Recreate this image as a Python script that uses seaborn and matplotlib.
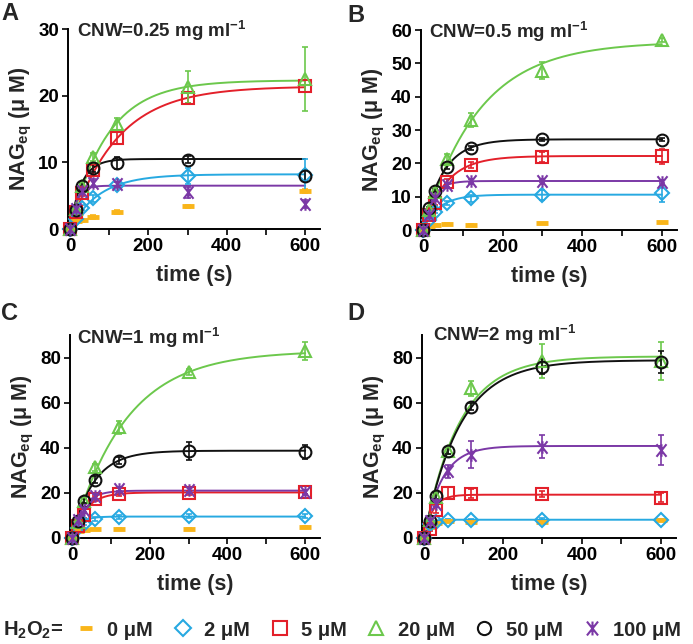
import numpy as np
import pandas as pd
import matplotlib
matplotlib.use("Agg")
import matplotlib.pyplot as plt
import seaborn as sns
from matplotlib.path import Path
from matplotlib.lines import Line2D

sns.set_style("ticks")
plt.rcParams['font.family'] = ['Liberation Sans', 'DejaVu Sans']
plt.rcParams['mathtext.fontset'] = 'custom'
plt.rcParams['mathtext.rm'] = 'Liberation Sans'
plt.rcParams['mathtext.bf'] = 'Liberation Sans:bold'
plt.rcParams['mathtext.default'] = 'regular'

# ---------------- data ----------------
time_s = [0, 15, 30, 60, 120, 300, 600]
series_names = ["0 μM", "2 μM", "5 μM", "20 μM", "50 μM", "100 μM"]
panel_letters = ["A", "B", "C", "D"]
panel_titles = ["CNW=0.25 mg ml$^{-1}$", "CNW=0.5 mg ml$^{-1}$",
                "CNW=1 mg ml$^{-1}$", "CNW=2 mg ml$^{-1}$"]
y_maxes = [30, 60, 90, 90]
y_ticks = [[0, 10, 20, 30], [0, 10, 20, 30, 40, 50, 60],
           [0, 20, 40, 60, 80], [0, 20, 40, 60, 80]]

# Panel A (CNW 0.25)
A_0 = [0, 1.2, 1.3, 1.8, 2.6, 3.4, 5.7]
A_2 = [0, 1.5, 3.2, 4.6, 6.6, 8.0, 8.1]
A_5 = [0, 2.5, 5.4, 8.8, 13.7, 19.7, 21.4]
A_20 = [0, 3.0, 6.5, 10.8, 15.8, 21.3, 22.5]
A_50 = [0, 2.9, 6.4, 9.1, 9.9, 10.4, 8.0]
A_100 = [0, 3.0, 5.7, 6.9, 6.7, 5.5, 3.8]
A_err_0 = [0, 0.2, 0.2, 0.3, 0.3, 0.2, 0.3]
A_err_2 = [0, 0.3, 0.4, 0.5, 0.5, 1.2, 2.4]
A_err_5 = [0, 0.3, 0.5, 0.8, 0.9, 0.8, 0.9]
A_err_20 = [0, 0.3, 0.5, 0.6, 0.9, 2.4, 4.8]
A_err_50 = [0, 0.3, 0.5, 0.6, 0.9, 0.5, 0.8]
A_err_100 = [0, 0.3, 0.5, 0.6, 0.4, 0.8, 0.6]

# Panel B (CNW 0.5)
B_0 = [0, 1.3, 1.5, 1.8, 1.6, 2.0, 2.3]
B_2 = [0, 3.0, 5.5, 8.2, 9.5, 10.5, 11.0]
B_5 = [0, 4.5, 8.2, 14.5, 19.5, 21.8, 22.1]
B_20 = [0, 6.0, 11.5, 21.2, 33.0, 47.8, 57.0]
B_50 = [0, 6.5, 11.8, 19.0, 24.7, 27.2, 27.1]
B_100 = [0, 4.5, 9.5, 13.5, 14.7, 14.8, 14.5]
B_err_0 = [0, 0.2, 0.2, 0.2, 0.2, 0.2, 0.2]
B_err_2 = [0, 0.4, 0.5, 0.6, 1.0, 1.6, 2.5]
B_err_5 = [0, 0.4, 0.6, 0.8, 0.8, 1.5, 2.3]
B_err_20 = [0, 0.5, 0.6, 1.5, 2.0, 2.5, 0.6]
B_err_50 = [0, 0.4, 0.5, 0.6, 0.6, 0.5, 0.5]
B_err_100 = [0, 0.4, 0.5, 0.5, 0.5, 0.5, 0.5]

# Panel C (CNW 1)
C_0 = [0, 3.0, 3.7, 3.8, 4.1, 4.1, 4.9]
C_2 = [0, 4.5, 6.3, 8.5, 9.3, 9.7, 9.7]
C_5 = [0, 5.5, 10.0, 17.4, 19.6, 20.0, 20.3]
C_20 = [0, 7.0, 16.6, 31.4, 49.0, 73.6, 82.9]
C_50 = [0, 7.5, 16.3, 25.9, 34.3, 38.6, 38.1]
C_100 = [0, 8.0, 12.2, 18.5, 21.8, 21.5, 20.3]
C_err_0 = [0, 0.3, 0.3, 0.3, 0.3, 0.4, 0.4]
C_err_2 = [0, 0.5, 0.6, 0.8, 0.9, 1.0, 1.0]
C_err_5 = [0, 0.5, 1.0, 1.0, 1.0, 1.0, 1.0]
C_err_20 = [0, 0.5, 1.0, 1.5, 3.0, 1.5, 4.0]
C_err_50 = [0, 0.6, 1.0, 1.5, 1.5, 4.0, 3.0]
C_err_100 = [0, 0.5, 0.8, 1.0, 1.0, 1.0, 1.0]

# Panel D (CNW 2)
D_0 = [0, 5.0, 6.5, 7.4, 7.3, 7.3, 7.8]
D_2 = [0, 6.0, 7.0, 7.8, 8.1, 8.2, 8.0]
D_5 = [0, 4.0, 12.5, 19.9, 19.6, 19.5, 17.8]
D_20 = [0, 8.0, 18.0, 38.7, 66.3, 78.5, 78.5]
D_50 = [0, 7.5, 18.6, 38.7, 58.2, 76.0, 78.0]
D_100 = [0, 7.5, 15.2, 29.5, 37.0, 40.5, 39.0]
D_err_0 = [0, 0.4, 0.4, 0.4, 0.4, 0.4, 0.4]
D_err_2 = [0, 0.5, 0.5, 0.5, 0.5, 0.5, 0.5]
D_err_5 = [0, 1.0, 1.5, 2.5, 2.0, 1.5, 2.0]
D_err_20 = [0, 1.0, 1.5, 1.5, 3.5, 7.5, 8.5]
D_err_50 = [0, 1.0, 1.5, 1.5, 1.5, 3.5, 5.0]
D_err_100 = [0, 1.0, 1.5, 3.0, 6.0, 5.0, 6.5]

# Single-exponential fit parameters: plateau, rate (1/s)
# order: 2, 5, 20, 50, 100 uM (0 uM has no fit)
A_fit_plateau = [8.2, 21.4, 22.3, 10.5, 6.5]
A_fit_rate = [0.0134, 0.0084, 0.0105, 0.035, 0.06]
B_fit_plateau = [10.6, 22.2, 56.5, 27.2, 14.7]
B_fit_rate = [0.0248, 0.0176, 0.0072, 0.0199, 0.0417]
C_fit_plateau = [9.5, 20.2, 83.0, 38.7, 21.0]
C_fit_rate = [0.05, 0.028, 0.00724, 0.0181, 0.035]
D_fit_plateau = [8.1, 19.2, 80.5, 78.8, 40.8]
D_fit_rate = [0.1, 0.045, 0.0112, 0.0111, 0.0222]

panels = [
    ([A_0, A_2, A_5, A_20, A_50, A_100],
     [A_err_0, A_err_2, A_err_5, A_err_20, A_err_50, A_err_100],
     A_fit_plateau, A_fit_rate),
    ([B_0, B_2, B_5, B_20, B_50, B_100],
     [B_err_0, B_err_2, B_err_5, B_err_20, B_err_50, B_err_100],
     B_fit_plateau, B_fit_rate),
    ([C_0, C_2, C_5, C_20, C_50, C_100],
     [C_err_0, C_err_2, C_err_5, C_err_20, C_err_50, C_err_100],
     C_fit_plateau, C_fit_rate),
    ([D_0, D_2, D_5, D_20, D_50, D_100],
     [D_err_0, D_err_2, D_err_5, D_err_20, D_err_50, D_err_100],
     D_fit_plateau, D_fit_rate),
]

# ---------------- style ----------------
colors = ["#F9B51A", "#27A9E1", "#E3202A", "#6CC84C", "#111111", "#7B38A6"]
ast = Path([(-0.8, -1), (0.8, 1), (-0.8, 1), (0.8, -1), (0, -1), (0, 1)],
           [Path.MOVETO, Path.LINETO, Path.MOVETO, Path.LINETO,
            Path.MOVETO, Path.LINETO])
markers = ["_", "D", "s", "^", "o", ast]
msizes = [8, 7, 8.5, 9, 8.5, 9]
mews = [3.5, 1.5, 1.5, 1.5, 1.5, 1.5]

W, H = 693, 644
fig = plt.figure(figsize=(W / 100, H / 100), dpi=100)

# axes boxes in pixels: left, right, top, bottom
boxes = [(68, 320, 29, 229), (421, 677, 30, 230),
         (70, 320, 335, 538), (422, 676, 335, 538)]
title_pos = [(0.036, 0.99), (0.03, 0.99), (0.028, 0.985), (0.043, 1.0)]
letter_pos = [(1, 14), (347, 15), (1, 314), (347, 314)]

tick_fs = 13.5
lab_fs = 15.5

fit_t = np.linspace(0, 600, 301)

for i, (ys, errs, plat, rate) in enumerate(panels):
    l, r, t, b = boxes[i]
    ax = fig.add_axes([l / W, 1 - b / H, (r - l) / W, (b - t) / H])

    # fitted curves via seaborn
    rows = []
    for j in range(5):
        yy = plat[j] * (1 - np.exp(-rate[j] * fit_t))
        rows.append(pd.DataFrame({"t": fit_t, "y": yy, "series": series_names[j + 1]}))
    df = pd.concat(rows, ignore_index=True)
    sns.lineplot(data=df, x="t", y="y", hue="series",
                 palette=dict(zip(series_names[1:], colors[1:])),
                 legend=False, ax=ax, linewidth=1.4, zorder=2)

    # data points with error bars
    for j in range(6):
        ax.errorbar(time_s, ys[j], yerr=errs[j], fmt="none",
                    ecolor=colors[j], elinewidth=1.2, capsize=2.5,
                    capthick=1.2, zorder=3, clip_on=False)
        ax.plot(time_s, ys[j], linestyle="none", marker=markers[j],
                ms=msizes[j], mew=mews[j], mfc="none", mec=colors[j],
                zorder=4, clip_on=False)

    ax.set_xlim(-5, 638)
    ax.set_ylim(0, y_maxes[i])
    ax.set_xticks([0, 200, 400, 600])
    ax.set_xticks([100, 300, 500], minor=True)
    ax.set_yticks(y_ticks[i])
    ax.tick_params(axis="both", which="both", direction="out", length=4.5,
                   width=1.2, labelsize=tick_fs, pad=2, colors="black")
    for lab in ax.get_xticklabels() + ax.get_yticklabels():
        lab.set_fontweight("bold")
    sns.despine(ax=ax)
    for sp in ["left", "bottom"]:
        ax.spines[sp].set_linewidth(1.4)
        ax.spines[sp].set_color("black")
    ax.set_xlabel("time (s)", fontsize=lab_fs, fontweight="bold", labelpad=7)
    ax.set_ylabel("NAG$_{eq}$ (μ M)", fontsize=lab_fs, fontweight="bold",
                  labelpad=3)
    ax.text(title_pos[i][0], title_pos[i][1], panel_titles[i],
            transform=ax.transAxes, ha="left", va="center", fontsize=13.5,
            fontweight="bold")
    fig.text(letter_pos[i][0] / W, 1 - letter_pos[i][1] / H, panel_letters[i],
             ha="left", va="center", fontsize=17, fontweight="bold")

# legend
handles = [Line2D([], [], linestyle="none", marker=markers[j], ms=msizes[j] + 1,
                  mew=mews[j], mfc="none", mec=colors[j]) for j in range(6)]
fig.text(3 / W, 1 - 630 / H, "H$_2$O$_2$=", ha="left", va="center",
         fontsize=14.5, fontweight="bold")
fig.legend(handles, series_names, loc="center left",
           bbox_to_anchor=(76 / W, 1 - 630 / H), ncol=6, frameon=False,
           prop={"size": 14.5, "weight": "bold"}, handlelength=1.0,
           handletextpad=0.55, columnspacing=0.98, borderpad=0,
           borderaxespad=0)

fig.savefig("out.png", dpi=100)
